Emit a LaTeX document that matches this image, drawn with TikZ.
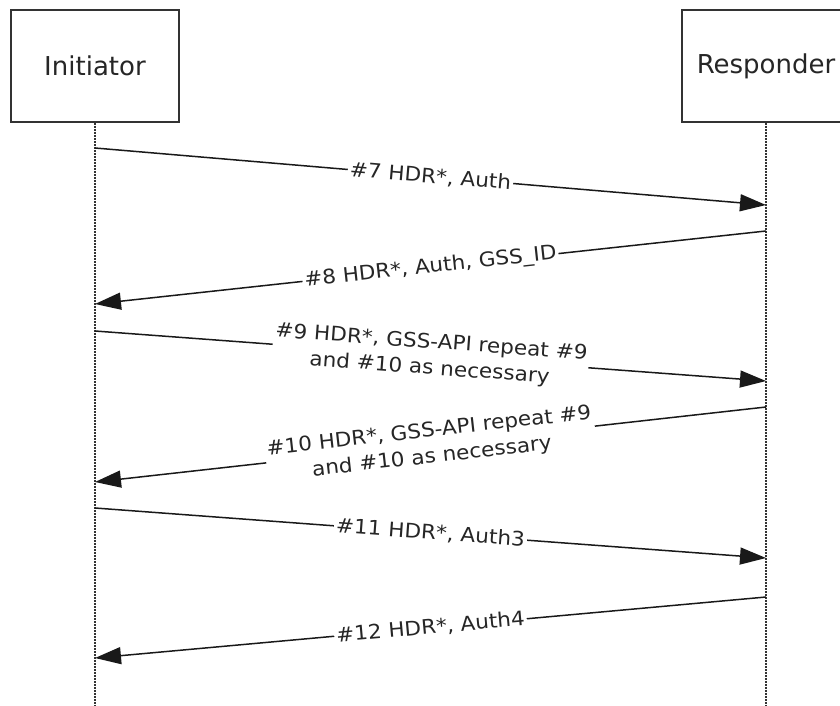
\documentclass[tikz,border=0pt]{standalone}
\usepackage{fontspec}
\setmainfont{DejaVu Sans}
\newfontfamily\msgfont[FakeStretch=1.08]{DejaVu Sans}
\usetikzlibrary{arrows.meta}

\tikzset{
  actor/.style={draw=black!80, line width=1.5pt, fill=white,
    minimum width=168pt, minimum height=112pt,
    font=\fontsize{26}{30}\selectfont, text=black!85},
  lifeline/.style={black!80, line width=1.2pt, dash pattern=on 2pt off 1pt},
  msg/.style={black!90, line width=1.5pt, -{Triangle[length=26pt, width=17pt]}},
  msglabel/.style={sloped, fill=white, inner sep=2pt, align=center,
    text=black!85, font=\msgfont\fontsize{20}{26}\selectfont},
}

\begin{document}
\begin{tikzpicture}[x=1pt, y=-1pt]
        \useasboundingbox (0,0) rectangle (840,706);

        % Participants
        \node[actor] (ini) at (95,66) {Initiator};
        \node[actor] (res) at (766,66) {Responder};

        % Lifelines
        \coordinate (bottom) at (0,706);
        \draw[lifeline] (ini.south) -- (ini.south |- bottom);
        \draw[lifeline] (res.south) -- (res.south |- bottom);

        % Message end points
        \coordinate (i7) at (ini.south |- 0,148);
        \coordinate (r7) at (res.south |- 0,205);
        \coordinate (r8) at (res.south |- 0,231);
        \coordinate (i8) at (ini.south |- 0,304);
        \coordinate (i9) at (ini.south |- 0,331);
        \coordinate (r9) at (res.south |- 0,381);
        \coordinate (r10) at (res.south |- 0,407);
        \coordinate (i10) at (ini.south |- 0,482);
        \coordinate (i11) at (ini.south |- 0,508);
        \coordinate (r11) at (res.south |- 0,558);
        \coordinate (r12) at (res.south |- 0,597);
        \coordinate (i12) at (ini.south |- 0,658);

        % Messages
        \draw[msg] (i7) -- node[msglabel] {\#7 HDR*, Auth} (r7);
        \draw[msg] (r8) -- node[msglabel] {\#8 HDR*, Auth, GSS\_ID} (i8);
        \draw[msg] (i9) -- node[msglabel] {\#9 HDR*, GSS-API repeat \#9\\and \#10 as necessary} (r9);
        \draw[msg] (r10) -- node[msglabel] {\#10 HDR*, GSS-API repeat \#9\\and \#10 as necessary} (i10);
        \draw[msg] (i11) -- node[msglabel] {\#11 HDR*, Auth3} (r11);
        \draw[msg] (r12) -- node[msglabel] {\#12 HDR*, Auth4} (i12);
\end{tikzpicture}
\end{document}
